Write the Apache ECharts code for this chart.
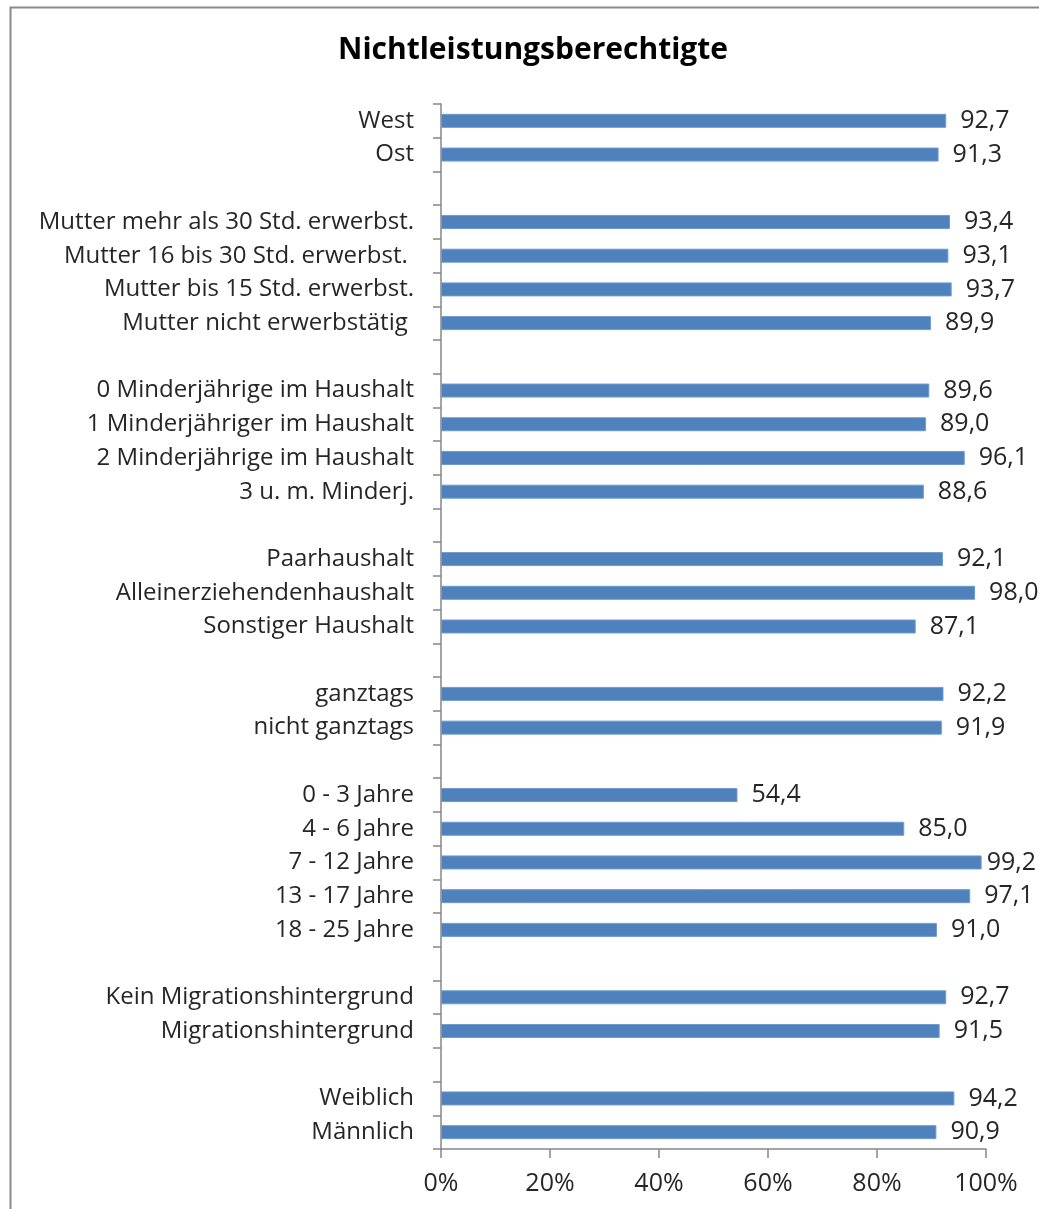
<!DOCTYPE html>
<html><head><meta charset="utf-8">
<script src="https://cdn.jsdelivr.net/npm/echarts@6/dist/echarts.min.js"></script>
<style>html,body{margin:0;padding:0;background:#fff}#c{width:1039px;height:1209px}</style>
</head><body><div id="c"></div>
<script>
const categories = ['West','Ost',' ','Mutter mehr als 30 Std. erwerbst.','Mutter 16 bis 30 Std. erwerbst. ','Mutter bis 15 Std. erwerbst.','Mutter nicht erwerbstätig ','  ','0 Minderjährige im Haushalt','1 Minderjähriger im Haushalt','2 Minderjährige im Haushalt','3 u. m. Minderj.','   ','Paarhaushalt','Alleinerziehendenhaushalt','Sonstiger Haushalt','    ','ganztags','nicht ganztags','     ','0 - 3 Jahre','4 - 6 Jahre','7 - 12 Jahre','13 - 17 Jahre','18 - 25 Jahre','      ','Kein Migrationshintergrund','Migrationshintergrund','       ','Weiblich','Männlich'];
const values = [92.7,91.3,null,93.4,93.1,93.7,89.9,null,89.6,89.0,96.1,88.6,null,92.1,98.0,87.1,null,92.2,91.9,null,54.4,85.0,99.2,97.1,91.0,null,92.7,91.5,null,94.2,90.9];
const xTicks = [0,20,40,60,80,100];
const title = 'Nichtleistungsberechtigte';

const FONT = 'Open Sans';
// labels too close to the right edge are pulled in (as the original does)
const seriesData = values.map(v => (v != null && v > 99) ? {value:v, label:{distance:5}} : v);
const chart = echarts.init(document.getElementById('c'), null, {renderer:'canvas'});
chart.setOption({
  animation:false,
  backgroundColor:'#fff',
  title:{text:title,left:333,top:30,textStyle:{fontFamily:FONT,fontSize:30,fontWeight:'bold',color:'#000'}},
  graphic:[{type:'rect',left:8,top:5,shape:{width:1100,height:1300},style:{fill:'none',stroke:'#8a8a8a',lineWidth:2},z:-1}],
  grid:{left:441,right:53,top:104,bottom:60,containLabel:false},
  xAxis:{type:'value',min:xTicks[0],max:xTicks[xTicks.length-1],interval:20,
    axisLine:{show:true,lineStyle:{color:'#868686',width:1.5}},
    axisTick:{show:true,length:9,lineStyle:{color:'#868686',width:1.5}},
    splitLine:{show:false},
    axisLabel:{formatter:'{value}%',fontFamily:FONT,fontSize:25,color:'#262626',margin:22}},
  yAxis:{type:'category',inverse:true,data:categories,
    axisLine:{show:true,lineStyle:{color:'#868686',width:1.5}},
    axisTick:{show:true,length:8,alignWithLabel:false,interval:0,lineStyle:{color:'#868686',width:1.5}},
    axisLabel:{interval:0,fontFamily:FONT,fontSize:24,color:'#262626',margin:27}},
  series:[{type:'bar',data:seriesData,barWidth:14,
    itemStyle:{color:'#4F81BD',borderColor:'#6F9AD0',borderWidth:1},
    label:{show:true,position:'right',distance:14,fontFamily:FONT,fontSize:25,color:'#262626',
      formatter:p=>p.value==null?'':p.value.toFixed(1).replace('.',',')}}]
});
</script></body></html>
